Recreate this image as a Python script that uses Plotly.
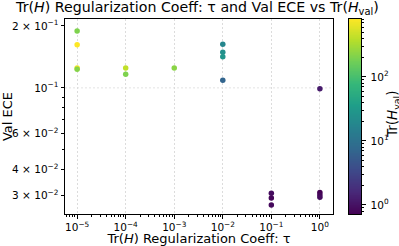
import numpy as np
import plotly.graph_objects as go

# Data
tau = [1e-5, 1e-5, 1e-5, 1e-5,
       1e-4, 1e-4,
       1e-3,
       1e-2, 1e-2, 1e-2, 1e-2,
       1e-1, 1e-1, 1e-1,
       1.0, 1.0, 1.0, 1.0]
val_ece = [0.189, 0.162, 0.125, 0.123,
           0.125, 0.1166,
           0.125,
           0.163, 0.149, 0.1415, 0.109,
           0.0308, 0.0292, 0.0270,
           0.099, 0.0310, 0.0302, 0.0294]
tr_h_val = [200, 800, 700, 220,
            420, 200,
            230,
            18, 24, 28, 7,
            0.9, 0.8, 0.85,
            1.2, 0.72, 0.8, 0.9]

x_tickvals = [1e-5, 1e-4, 1e-3, 1e-2, 1e-1, 1.0]
x_ticktext = ["10<sup>−5</sup>", "10<sup>−4</sup>", "10<sup>−3</sup>",
              "10<sup>−2</sup>", "10<sup>−1</sup>", "10<sup>0</sup>"]
y_tickvals = [0.03, 0.04, 0.06, 0.1, 0.2]
y_ticktext = ["3 × 10<sup>−2</sup>", "4 × 10<sup>−2</sup>", "6 × 10<sup>−2</sup>",
              "10<sup>−1</sup>", "2 × 10<sup>−1</sup>"]
y_minor = [0.05, 0.07, 0.08, 0.09]
cb_tickvals = [0, 1, 2]
cb_ticktext = ["10<sup>0</sup>", "10<sup>1</sup>", "10<sup>2</sup>"]

logc = np.log10(tr_h_val)
cmin, cmax = float(logc.min()), float(logc.max())
x_minor = [m * 10.0 ** e for e in range(-6, 1) for m in range(2, 10)]
cb_minor = [np.log10(m * 10.0 ** e) for e in range(-1, 3) for m in range(2, 10)]

FONT = "DejaVu Sans"
GRID = "#dcdcdc"
W, H = 399, 246
ML, MR, MT, MB = 65, 38, 19, 32
PW = W - ML - MR
main_dom = [0, (333 - ML) / PW]
cb_dom = [(349 - ML) / PW, 1.0]

fig = go.Figure()
fig.add_trace(go.Scatter(
    x=tau, y=val_ece, mode="markers",
    marker=dict(size=5.5, color=logc, colorscale="Viridis",
                cmin=cmin, cmax=cmax, line=dict(width=0), showscale=False),
    showlegend=False, xaxis="x", yaxis="y",
))

# colour bar drawn as a heatmap on its own axes
cb_levels = np.linspace(cmin, cmax, 256)
fig.add_trace(go.Heatmap(
    x=[0], y=cb_levels, z=[[v] for v in cb_levels],
    colorscale="Viridis", zmin=cmin, zmax=cmax, showscale=False,
    hoverinfo="skip", xaxis="x2", yaxis="y2",
))

fig.add_shape(type="line", xref="x domain", yref="y", x0=0, x1=1, y0=0.1, y1=0.1,
              line=dict(color=GRID, width=0.8, dash="2px,2px"), layer="below")

fig.add_annotation(
    text="Tr(<i>H</i><sub>val</sub>)", textangle=-90,
    xref="paper", yref="paper", x=(393 - ML) / PW, y=1 - (114 - MT) / (H - MT - MB),
    xanchor="center", yanchor="middle", showarrow=False,
    font=dict(family=FONT, size=13.5, color="black"),
)

fig.update_layout(
    width=W, height=H,
    margin=dict(l=ML, r=MR, t=MT, b=MB, autoexpand=False),
    paper_bgcolor="white", plot_bgcolor="white",
    font=dict(family=FONT, color="black"),
    title=dict(text="Tr(<i>H</i>) Regularization Coeff: τ and Val ECE vs Tr(<i>H</i><sub>val</sub>)",
               x=197.5 / W, xanchor="center", xref="container", y=0.99, yanchor="top",
               font=dict(family=FONT, size=14.2, color="black")),
    xaxis=dict(
        domain=main_dom, automargin=False,
        type="log", range=[-5.25, 0.27],
        tickvals=x_tickvals, ticktext=x_ticktext,
        ticks="outside", ticklen=3.5, tickwidth=0.8, tickcolor="black",
        tickfont=dict(family=FONT, size=10.5),
        showgrid=True, gridcolor=GRID, gridwidth=0.8, griddash="2px,2px",
        showline=True, linecolor="black", linewidth=1, mirror=True,
        zeroline=False,
        minor=dict(tickvals=x_minor, ticks="outside", ticklen=2, tickwidth=0.6,
                   tickcolor="black", showgrid=False),
        title=dict(text="Tr(<i>H</i>) Regularization Coeff: τ", standoff=3,
                   font=dict(family=FONT, size=13)),
    ),
    yaxis=dict(
        automargin=False,
        type="log", range=[np.log10(0.0244), np.log10(0.216)],
        tickvals=y_tickvals, ticktext=y_ticktext,
        ticks="outside", ticklen=3.5, tickwidth=0.8, tickcolor="black",
        tickfont=dict(family=FONT, size=10.5),
        showgrid=False,
        showline=True, linecolor="black", linewidth=1, mirror=True,
        zeroline=False,
        minor=dict(tickvals=y_minor, ticks="outside", ticklen=2, tickwidth=0.6,
                   tickcolor="black", showgrid=False),
        title=dict(text="Val ECE", standoff=3,
                   font=dict(family=FONT, size=13)),
    ),
    xaxis2=dict(
        domain=cb_dom, anchor="y2", range=[-0.5, 0.5], automargin=False,
        showticklabels=False, ticks="", showgrid=False, zeroline=False,
        showline=True, linecolor="black", linewidth=1, mirror=True,
    ),
    yaxis2=dict(
        domain=[0, 1], anchor="x2", side="right", range=[cmin, cmax], automargin=False,
        tickvals=cb_tickvals, ticktext=cb_ticktext,
        ticks="outside", ticklen=3.5, tickwidth=0.8, tickcolor="black",
        ticklabelstandoff=3,
        tickfont=dict(family=FONT, size=10.5),
        showgrid=False, zeroline=False,
        showline=True, linecolor="black", linewidth=1, mirror=True,
        minor=dict(tickvals=cb_minor, ticks="outside", ticklen=2, tickwidth=0.6,
                   tickcolor="black", showgrid=False),
    ),
)

fig.write_html("out.html",
               config={"displayModeBar": False},
               post_script="document.body.style.margin='0';document.body.style.overflow='hidden';")
